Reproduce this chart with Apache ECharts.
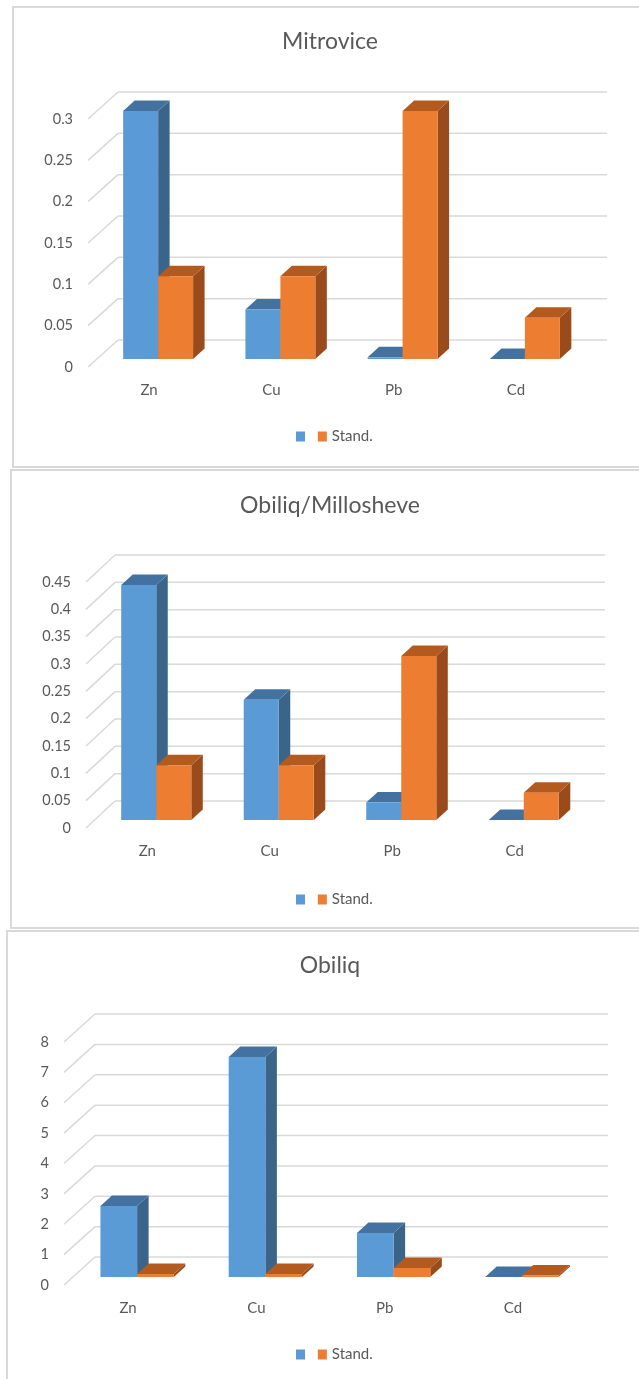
<!DOCTYPE html>
<html>
<head>
<meta charset="utf-8">
<script src="https://cdn.jsdelivr.net/npm/echarts@6/dist/echarts.min.js"></script>
<style>
body{margin:0;background:#fff;}
.frame{position:absolute;border:2px solid #d9d9d9;box-sizing:border-box;}
#chart{position:absolute;left:0;top:0;width:639px;height:1379px;}
</style>
</head>
<body>
<div class="frame" style="left:12px;top:6px;width:700px;height:462px"></div>
<div class="frame" style="left:10px;top:469px;width:700px;height:460px"></div>
<div class="frame" style="left:6px;top:930px;width:700px;height:500px"></div>
<div id="chart"></div>
<script>
// data
var categories = ['Zn', 'Cu', 'Pb', 'Cd'];
var titles = ['Mitrovice', 'Obiliq/Millosheve', 'Obiliq'];
var seriesNames = [' ', 'Stand.'];

var mitroviceValues = [0.3, 0.06, 0.002, 0];
var mitroviceStand = [0.1, 0.1, 0.3, 0.05];
var millosheveValues = [0.43, 0.22, 0.032, 0];
var millosheveStand = [0.1, 0.1, 0.3, 0.05];
var obiliqValues = [2.34, 7.24, 1.45, 0];
var obiliqStand = [0.1, 0.1, 0.3, 0.05];

var mitroviceTicks = [0, 0.05, 0.1, 0.15, 0.2, 0.25, 0.3];
var millosheveTicks = [0, 0.05, 0.1, 0.15, 0.2, 0.25, 0.3, 0.35, 0.4, 0.45];
var obiliqTicks = [0, 1, 2, 3, 4, 5, 6, 7, 8];

// layout of the three panels (front plane of each 3D box)
var panels = [
  {values: mitroviceValues, stand: mitroviceStand, ticks: mitroviceTicks, max: 0.3, interval: 0.05,
   grid: {left: 88, top: 119, width: 489, height: 248}, wall: [30, -27], titleTop: 30, legendTop: 429},
  {values: millosheveValues, stand: millosheveStand, ticks: millosheveTicks, max: 0.45, interval: 0.05,
   grid: {left: 86, top: 582, width: 490, height: 246}, wall: [29, -27], titleTop: 494, legendTop: 892},
  {values: obiliqValues, stand: obiliqStand, ticks: obiliqTicks, max: 8, interval: 1,
   grid: {left: 64, top: 1042, width: 513, height: 243}, wall: [31, -28], titleTop: 954, legendTop: 1347}
];

var FONT = 'Lato';
var TEXT = '#595959';
var BAR_FRAC = 0.286;
var BAR_SHIFT = [9, -8];
var BAR_DEPTH = [11.5, -10.5];
var blue = {front: '#5b9bd5', top: '#4472a0', side: '#3b6489'};
var orange = {front: '#ed7d31', top: '#b35a1f', side: '#9a4b1c'};

// 后墙网格线 + 斜线
function wallItem(wall) {
  return function (params, api) {
    var cs = params.coordSys;
    var y = api.coord([0, api.value(1)])[1];
    var st = {stroke: '#d9d9d9', lineWidth: 1.5};
    return {
      type: 'group',
      children: [
        {type: 'line', shape: {x1: cs.x, y1: y, x2: cs.x + wall[0], y2: y + wall[1]}, style: st},
        {type: 'line', shape: {x1: cs.x + wall[0], y1: y + wall[1], x2: cs.x + cs.width + wall[0], y2: y + wall[1]}, style: st}
      ]
    };
  };
}

// 3D柱子
function barItem(side, c) {
  return function (params, api) {
    var idx = api.value(0);
    var base = api.coord([idx, 0]);
    var topP = api.coord([idx, api.value(1)]);
    var w = api.size([1, 0])[0] * BAR_FRAC;
    var x0 = base[0] + BAR_SHIFT[0] - (side === 0 ? w : 0);
    var yb = base[1] + BAR_SHIFT[1];
    var yt = topP[1] + BAR_SHIFT[1];
    var dx = BAR_DEPTH[0], dy = BAR_DEPTH[1];
    return {
      type: 'group',
      children: [
        {type: 'polygon', shape: {points: [[x0 + w, yt], [x0 + w + dx, yt + dy], [x0 + w + dx, yb + dy], [x0 + w, yb]]}, style: {fill: c.side}},
        {type: 'polygon', shape: {points: [[x0, yt], [x0 + w, yt], [x0 + w + dx, yt + dy], [x0 + dx, yt + dy]]}, style: {fill: c.top}},
        {type: 'rect', shape: {x: x0, y: yt, width: w, height: yb - yt}, style: {fill: c.front}}
      ]
    };
  };
}

var option = {
  animation: false,
  title: [], legend: [], grid: [], xAxis: [], yAxis: [], series: []
};

panels.forEach(function (p, i) {
  option.title.push({
    text: titles[i], left: 330, top: p.titleTop, textAlign: 'center', padding: 0,
    textStyle: {fontFamily: FONT, fontSize: 23, fontWeight: 'normal', color: TEXT}
  });
  option.legend.push({
    data: seriesNames, left: 296, top: p.legendTop, padding: 0, itemGap: 4,
    icon: 'rect', itemWidth: 9, itemHeight: 10, selectedMode: false,
    textStyle: {fontFamily: FONT, fontSize: 15, color: TEXT}
  });
  option.grid.push(Object.assign({outerBoundsMode: 'none'}, p.grid));
  option.xAxis.push({
    type: 'category', gridIndex: i, data: categories,
    axisLine: {show: false}, axisTick: {show: false},
    axisLabel: {margin: 16, fontFamily: FONT, fontSize: 15, color: TEXT}
  });
  option.yAxis.push({
    type: 'value', gridIndex: i, min: 0, max: p.max, interval: p.interval,
    axisLine: {show: false}, axisTick: {show: false}, splitLine: {show: false},
    axisLabel: {margin: 15, fontFamily: FONT, fontSize: 14.5, color: TEXT}
  });
  option.series.push({
    type: 'custom', xAxisIndex: i, yAxisIndex: i, silent: true,
    data: p.ticks.map(function (v) { return [0, v]; }),
    renderItem: wallItem(p.wall)
  });
  option.series.push({
    type: 'custom', name: seriesNames[0], xAxisIndex: i, yAxisIndex: i,
    itemStyle: {color: blue.front},
    data: p.values.map(function (v, k) { return [k, v]; }),
    renderItem: barItem(0, blue)
  });
  option.series.push({
    type: 'custom', name: seriesNames[1], xAxisIndex: i, yAxisIndex: i,
    itemStyle: {color: orange.front},
    data: p.stand.map(function (v, k) { return [k, v]; }),
    renderItem: barItem(1, orange)
  });
});

var chart = echarts.init(document.getElementById('chart'));
chart.setOption(option);
window.onresize = function () {
  chart.resize();
};
</script>
</body>
</html>
